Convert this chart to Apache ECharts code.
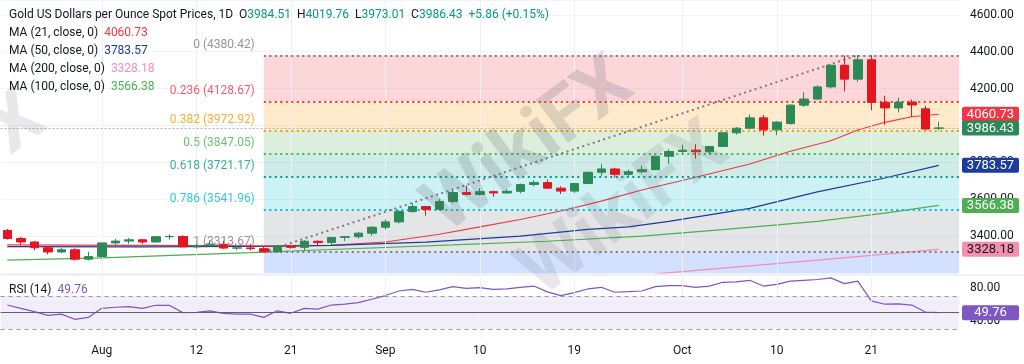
<!DOCTYPE html>
<html><head><meta charset="utf-8">
<script src="https://cdn.jsdelivr.net/npm/echarts@6/dist/echarts.min.js"></script>
<style>html,body{margin:0;padding:0;background:#fff}#c{width:1024px;height:364px}</style>
</head><body><div id="c"></div>
<script>
// ---------- data ----------
const dates = [
 '2025-07-23','2025-07-24','2025-07-25','2025-07-28','2025-07-29','2025-07-30','2025-07-31',
 '2025-08-01','2025-08-04','2025-08-05','2025-08-06','2025-08-07','2025-08-08','2025-08-11','2025-08-12','2025-08-13','2025-08-14','2025-08-15','2025-08-18','2025-08-19','2025-08-20','2025-08-21','2025-08-22','2025-08-25','2025-08-26','2025-08-27','2025-08-28','2025-08-29',
 '2025-09-01','2025-09-02','2025-09-03','2025-09-04','2025-09-05','2025-09-08','2025-09-09','2025-09-10','2025-09-11','2025-09-12','2025-09-15','2025-09-16','2025-09-17','2025-09-18','2025-09-19','2025-09-22','2025-09-23','2025-09-24','2025-09-25','2025-09-26','2025-09-29','2025-09-30',
 '2025-10-01','2025-10-02','2025-10-03','2025-10-06','2025-10-07','2025-10-08','2025-10-09','2025-10-10','2025-10-13','2025-10-14','2025-10-15','2025-10-16','2025-10-17','2025-10-20','2025-10-21','2025-10-22','2025-10-23','2025-10-24','2025-10-27','2025-10-28'
];
const opens  = [3431,3387,3368,3337,3314,3326,3275,3289,3363,3373,3380,3368,3397,3398,3342,3348,3356,3335,3336,3332,3315,3347,3339,3372,3365,3393,3397,3416,3448,3477,3533,3560,3545,3587,3636,3626,3641,3634,3643,3680,3690,3660,3644,3685,3746,3764,3735,3749,3760,3833,3859,3866,3857,3886,3960,3985,4041,3976,4010,4110,4143,4209,4326,4251,4356,4125,4095,4126,4090,3984.51];
const closes = [3387,3368,3337,3314,3326,3275,3289,3363,3373,3380,3368,3397,3398,3342,3348,3356,3335,3336,3332,3315,3347,3339,3372,3365,3393,3397,3416,3448,3477,3533,3560,3545,3587,3636,3626,3641,3634,3643,3680,3690,3660,3644,3685,3746,3764,3735,3749,3760,3833,3859,3866,3857,3886,3960,3985,4041,3976,4018,4110,4143,4209,4326,4251,4356,4125,4095,4126,4111,3980.57,3986.43];
const lows   = [3381,3351,3324,3301,3309,3268,3268,3281,3348,3358,3358,3365,3382,3340,3332,3344,3331,3324,3323,3312,3311,3332,3322,3352,3351,3373,3386,3402,3436,3469,3527,3511,3539,3578,3620,3620,3613,3630,3632,3670,3655,3628,3634,3684,3727,3717,3722,3741,3758,3793,3850,3820,3844,3884,3950,3979,3945,3947,4005,4100,4140,4200,4185,4236,4082,4004,4070,4046,3975,3973.01];
const highs  = [3439,3396,3373,3345,3334,3334,3315,3363,3385,3390,3385,3398,3409,3405,3358,3375,3375,3345,3358,3345,3350,3351,3379,3376,3394,3399,3423,3454,3490,3540,3578,3564,3600,3647,3674,3659,3646,3655,3685,3703,3707,3670,3688,3750,3791,3770,3761,3782,3835,3871,3895,3898,3889,3962,3991,4059,4057,4022,4116,4180,4218,4330,4379,4381,4381,4161,4150,4140,4106,4019.76];
const ma21 = [['2025-07-23',3352],['2025-08-05',3350],['2025-08-19',3347],['2025-08-26',3350],['2025-09-01',3368],['2025-09-05',3410],['2025-09-10',3450],['2025-09-15',3490],['2025-09-18',3536],['2025-09-23',3590],['2025-09-26',3650],['2025-10-02',3719],['2025-10-08',3791],['2025-10-13',3860],['2025-10-16',3917],['2025-10-20',3975],['2025-10-22',4017],['2025-10-24',4047],['2025-10-28',4060.73]];
const ma50 = [['2025-07-23',3343],['2025-08-06',3342],['2025-08-20',3345],['2025-08-26',3350],['2025-09-04',3367],['2025-09-15',3400],['2025-09-22',3437],['2025-09-25',3450],['2025-09-30',3480],['2025-10-08',3550],['2025-10-15',3640],['2025-10-22',3715],['2025-10-28',3783.57]];
const ma100 = [['2025-07-23',3270],['2025-08-01',3282],['2025-08-18',3310],['2025-08-27',3330],['2025-09-08',3352],['2025-09-17',3372],['2025-09-26',3400],['2025-10-06',3435],['2025-10-15',3480],['2025-10-22',3525],['2025-10-28',3566.38]];
const ma200 = [['2025-09-29',3195],['2025-10-15',3270],['2025-10-28',3328.18]];
const rsi = [59,55,51,46.5,48,41.7,44,55,56.3,57,55,58.7,58.7,49.8,50,52,49,48,48,44,52,49,55,54,59,60,62,66,70.5,76,78,74.5,77.3,81.3,79.3,80,78,78.5,80.5,82,75,70.4,74,78.5,80.5,74.5,75.2,76,81.3,82.5,82.5,80.5,82,86.6,87,89,82,84,88,89,90,92,85,88,64,60,60.5,59,50.5,49.76];
const fibRatios = ['0','0.236','0.382','0.5','0.618','0.786','1','1.618'];
const fibPrices = [4380.42,4128.67,3972.92,3847.05,3721.17,3541.96,3313.67,2654.41];
const fibStart = '2025-08-19', fibEnd = '2025-10-20';
const axisTicks = {'2025-08-01':'Aug','2025-08-12':'12','2025-08-21':'21','2025-09-01':'Sep','2025-09-10':'10','2025-09-19':'19','2025-10-01':'Oct','2025-10-10':'10','2025-10-21':'21'};
const priceTicks = [3400,3600,3800,4000,4200,4400,4600];
const rsiTicks = [40,80];
const rsiLevels = [30,50,70];
const changeText = '+5.86 (+0.15%)';

// ---------- styles ----------
const FONT = 'Roboto';
const UP = '#2b8a55', DOWN = '#e3161f';
const fibLine = ['#787b86','#f23645','#ff9800','#4caf50','#089981','#00bcd4','#787b86','#2962ff'];
const fibFill = ['rgba(242,54,69,0.2)','rgba(255,152,0,0.2)','rgba(76,175,80,0.2)','rgba(8,153,129,0.2)','rgba(0,188,212,0.2)','rgba(120,123,134,0.2)','rgba(41,98,255,0.2)'];
const MA = [{name:'MA (21, close, 0)', d:ma21, c:'#f23645', tag:'#f23645', tf:'#fff'},
            {name:'MA (50, close, 0)', d:ma50, c:'#1c3aa0', tag:'#1c3aa0', tf:'#fff'},
            {name:'MA (200, close, 0)', d:ma200, c:'#f48fb1', tag:'#f48fb1', tf:'#1a1a1a'},
            {name:'MA (100, close, 0)', d:ma100, c:'#4caf50', tag:'#4caf50', tf:'#fff'}];

const cats = dates.concat(['pad']);
const GL = 0.55, BAND = 13.5, GW = BAND * cats.length, GR = GL + GW;
const Y0 = 3200, Y1 = 4680;

const chart = echarts.init(document.getElementById('c'), null, {renderer:'canvas'});
const last = a => a[a.length-1];
const vgrid = Object.keys(axisTicks).map(d => ({xAxis:d}));

const fibZones = [];
for (let i = 0; i < 7; i++) {
  fibZones.push([{xAxis: fibStart, yAxis: fibPrices[i], itemStyle:{color: fibFill[i]}},
                 {x: GR, yAxis: Math.max(fibPrices[i+1], Y0)}]);
}
const fibLines = [];
for (let i = 0; i < 7; i++) {
  fibLines.push([{xAxis: fibStart, yAxis: fibPrices[i], lineStyle:{color: fibLine[i]}}, {x: GR, yAxis: fibPrices[i]}]);
}
fibLines.push([{coord:[fibStart, fibPrices[6]], lineStyle:{color:'#787b86'}}, {coord:[fibEnd, fibPrices[0]]}]);

const option = {
  animation: false,
  textStyle: {fontFamily: FONT},
  grid: [
    {left: GL, top: 0, width: GW, height: 273},
    {left: GL, top: 277, width: GW, height: 60.2}
  ],
  xAxis: [
    {type:'category', gridIndex:0, data:cats, boundaryGap:true, axisLine:{show:false}, axisTick:{show:false}, axisLabel:{show:false}, splitLine:{show:false}},
    {type:'category', gridIndex:1, data:cats, boundaryGap:true, axisLine:{show:false}, axisTick:{show:false}, splitLine:{show:false},
     axisLabel:{show:true, interval:(i,v)=>axisTicks[v]!==undefined, formatter:v=>axisTicks[v]||'', color:'#131722', fontSize:12, margin:8, fontFamily:FONT}}
  ],
  yAxis: [
    {type:'value', gridIndex:0, position:'right', min:Y0, max:Y1, interval:200, axisLine:{show:false}, axisTick:{show:false},
     splitLine:{show:true, lineStyle:{color:'#f0f3fa'}},
     axisLabel:{formatter:v=>priceTicks.includes(v)?v.toFixed(2):'', color:'#131722', fontSize:12, margin:11, fontFamily:FONT}},
    {type:'value', gridIndex:1, position:'right', min:20, max:93, interval:20, axisLine:{show:false}, axisTick:{show:false}, splitLine:{show:false},
     axisLabel:{formatter:v=>rsiTicks.includes(v)?v.toFixed(2):'', color:'#131722', fontSize:12, margin:11, fontFamily:FONT}}
  ],
  series: [
    {type:'line', xAxisIndex:0, yAxisIndex:0, data:[], z:1, silent:true,
     markLine:{silent:true, symbol:['none','none'], label:{show:false}, lineStyle:{color:'#eef0f5', width:1, type:'solid'}, data: vgrid},
     markArea:{silent:true, data: fibZones}},
    {type:'line', xAxisIndex:0, yAxisIndex:0, data:[], z:2, silent:true,
     markLine:{silent:true, symbol:['none','none'], label:{show:false}, lineStyle:{width:2, type:[2,3.5]}, data: fibLines}},
    {type:'line', xAxisIndex:0, yAxisIndex:0, data:[], z:2, silent:true,
     markLine:{silent:true, symbol:['none','none'], label:{show:false}, lineStyle:{color:'#b2b5be', width:1, type:[2,2]}, data:[{yAxis: last(closes)}]}},
    {type:'candlestick', xAxisIndex:0, yAxisIndex:0, z:5, barWidth:9,
     data: dates.map((d,i)=>[opens[i], closes[i], lows[i], highs[i]]),
     itemStyle:{color:UP, color0:DOWN, borderColor:UP, borderColor0:DOWN, borderWidth:1}},
    ...MA.map(m => ({type:'line', xAxisIndex:0, yAxisIndex:0, z:4, data:m.d, symbol:'none', silent:true, lineStyle:{color:m.c, width:1.2}})),
    {type:'scatter', xAxisIndex:0, yAxisIndex:0, z:6, symbolSize:0, silent:true,
     data: fibPrices.slice(0,7).map((p,i)=>({value:[fibStart,p], label:{color: fibLine[i]}})),
     label:{show:true, position:'left', distance:9, offset:[0,-10.5], fontSize:12, fontFamily:FONT,
            formatter: p => fibRatios[p.dataIndex] + ' (' + fibPrices[p.dataIndex].toFixed(2) + ')'}},
    {type:'line', xAxisIndex:1, yAxisIndex:1, data:[], z:1, silent:true,
     markLine:{silent:true, symbol:['none','none'], label:{show:false}, lineStyle:{color:'#eef0f5', width:1, type:'solid'}, data: vgrid},
     markArea:{silent:true, itemStyle:{color:'rgba(126,87,194,0.1)'}, data:[[{yAxis:rsiLevels[0]},{yAxis:rsiLevels[2]}]]}},
    {type:'line', xAxisIndex:1, yAxisIndex:1, data:rsi, z:4, symbol:'none', silent:true, lineStyle:{color:'#7e57c2', width:1.2},
     markLine:{silent:true, symbol:['none','none'], label:{show:false},
       data:[{yAxis:rsiLevels[2], lineStyle:{color:'#9598a1', type:[4,4], width:1}},
             {yAxis:rsiLevels[1], lineStyle:{color:'#5d606b', type:'solid', width:1}},
             {yAxis:rsiLevels[0], lineStyle:{color:'#9598a1', type:[4,4], width:1}}]}}
  ]
};
chart.setOption(option);

// ---------- overlay texts & price tags ----------
const g = [];
const n = closes.length - 1;
g.push({type:'text', left: 9, top: 9, z:50, style:{
  text: '{t|Gold US Dollars per Ounce Spot Prices, 1D}  {t|O}{g|' + opens[n].toFixed(2) + '}  {t|H}{g|' + highs[n].toFixed(2) + '}  {t|L}{g|' + lows[n].toFixed(2) + '}  {t|C}{g|' + closes[n].toFixed(2) + '}  {g|' + changeText + '}',
  rich:{t:{fill:'#131722', font:'12px ' + FONT}, g:{fill:'#089981', font:'12px ' + FONT}}, font:'12px ' + FONT}});
const legendY = [34, 52, 70, 88];
MA.forEach((m,i)=>{
  g.push({type:'text', left: 9, top: legendY[i]-7, z:50, style:{
    text:'{t|' + m.name + '}  {v|' + last(m.d)[1].toFixed(2) + '}',
    rich:{t:{fill:'#131722', font:'12px '+FONT}, v:{fill:m.c, font:'12px '+FONT}}, font:'12px '+FONT}});
});
g.push({type:'text', left: 9, top: 284, z:50, style:{
  text:'{t|RSI (14)}  {v|' + last(rsi).toFixed(2) + '}',
  rich:{t:{fill:'#131722', font:'12px '+FONT}, v:{fill:'#7e57c2', font:'12px '+FONT}}, font:'12px '+FONT}});

// watermark
const WM = 'rgba(90,95,105,0.2)';
g.push({type:'text', x: 530, y: 148, rotation: 0.64, z: 40, silent:true, style:{text:'WikiFX', font:'bold 76px ' + FONT, fill:WM, align:'center', verticalAlign:'middle'}});
g.push({type:'text', x: 625, y: 212, rotation: 0.64, z: 40, silent:true, style:{text:'WikiFX', font:'bold 76px ' + FONT, fill:'rgba(90,95,105,0.14)', align:'center', verticalAlign:'middle'}});
g.push({type:'text', x: 18, y: 126, rotation: 0.64, z: 40, silent:true, style:{text:'X', font:'bold 76px ' + FONT, fill:'rgba(90,95,105,0.14)', align:'center', verticalAlign:'middle'}});

const tags = [
  {v: last(ma21)[1], bg: MA[0].tag, fg: MA[0].tf, ax:0},
  {v: closes[n], bg: UP, fg:'#fff', ax:0},
  {v: last(ma50)[1], bg: MA[1].tag, fg: MA[1].tf, ax:0},
  {v: last(ma100)[1], bg: MA[3].tag, fg: MA[3].tf, ax:0},
  {v: last(ma200)[1], bg: MA[2].tag, fg: MA[2].tf, ax:0},
  {v: last(rsi), bg:'#7e57c2', fg:'#fff', ax:1}
];
tags.forEach((t,k)=>{
  const y = chart.convertToPixel({yAxisIndex:t.ax}, t.v);
  g.push({type:'rect', z: 60 + k*2, shape:{x:962, y:y-7.5, width:57, height:15, r:2}, style:{fill:t.bg}});
  g.push({type:'text', z: 61 + k*2, x: 990.5, y: y + 0.5, style:{text:t.v.toFixed(2), fill:t.fg, font:'13px '+FONT, align:'center', verticalAlign:'middle'}});
});
// pane separator
g.push({type:'line', z:45, shape:{x1:0, y1:275, x2:1024, y2:275}, style:{stroke:'#e0e3eb', lineWidth:1}});
chart.setOption({graphic: g});
</script>
</body></html>
